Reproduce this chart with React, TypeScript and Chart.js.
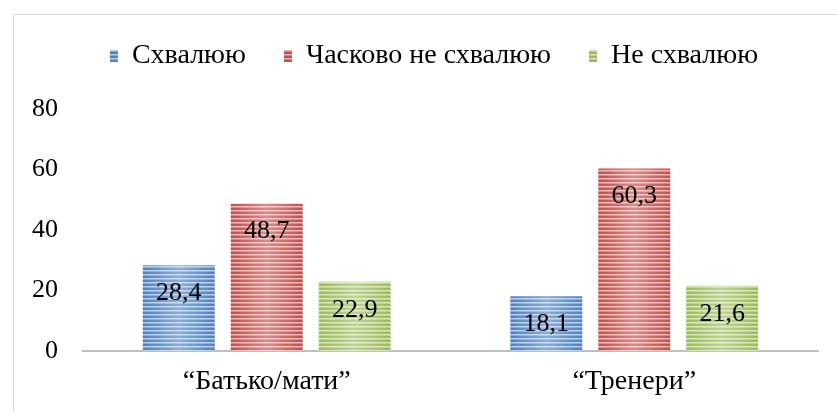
import React, { useEffect, useRef } from "react";
import { Chart, registerables } from "chart.js";

Chart.register(...registerables);

const categories = ["“Батько/мати”", "“Тренери”"];
const seriesNames = ["Схвалюю", "Часково не схвалюю", "Не схвалюю"];
const approveValues = [28.4, 18.1];
const partialValues = [48.7, 60.3];
const disapproveValues = [22.9, 21.6];
const yTickMin = 0;
const yTickMax = 80;
const yTickStep = 20;

const baseColors = ["#4f81bd", "#c0504d", "#9bbb59"];
const lightColors = ["#b9cde6", "#e6b9b8", "#d7e4bd"];
const FONT = "'Liberation Serif', 'Times New Roman', serif";

function makePattern(base: string, light: string): CanvasPattern | string {
  const c = document.createElement("canvas");
  c.width = 4;
  c.height = 4;
  const ctx = c.getContext("2d");
  if (!ctx) return base;
  ctx.fillStyle = base;
  ctx.fillRect(0, 0, 4, 4);
  ctx.fillStyle = light;
  ctx.fillRect(0, 2, 4, 1);
  ctx.globalAlpha = 0.5;
  ctx.fillRect(0, 3, 4, 1);
  const p = ctx.createPattern(c, "repeat");
  return p || base;
}

const fmt = (v: number) => v.toFixed(1).replace(".", ",");

const legendShift = {
  id: "legendShift",
  afterLayout(chart: any) {
    const lg = chart.legend;
    if (lg) {
      lg.left = chart.chartArea.left - 33;
    }
  },
};

const barDecor = {
  id: "barDecor",
  afterDatasetsDraw(chart: any) {
    const ctx = chart.ctx;
    chart.data.datasets.forEach((ds: any, di: number) => {
      const meta = chart.getDatasetMeta(di);
      meta.data.forEach((bar: any, i: number) => {
        const { x, y, base, width } = bar.getProps(["x", "y", "base", "width"], true);
        const left = x - width / 2;
        const g = ctx.createLinearGradient(left, 0, left + width, 0);
        g.addColorStop(0, "rgba(255,255,255,0)");
        g.addColorStop(0.5, "rgba(255,255,255,0.35)");
        g.addColorStop(1, "rgba(255,255,255,0)");
        ctx.save();
        ctx.fillStyle = g;
        ctx.fillRect(left, y, width, base - y);
        ctx.fillStyle = "#000";
        ctx.font = `26px ${FONT}`;
        ctx.textAlign = "center";
        ctx.textBaseline = "middle";
        ctx.fillText(fmt(ds.data[i]), x, y + 28);
        ctx.restore();
      });
    });
  },
};

export default function App() {
  const ref = useRef<HTMLCanvasElement>(null);
  useEffect(() => {
    if (!ref.current) return;
    const valueSets = [approveValues, partialValues, disapproveValues];
    const chart = new Chart(ref.current, {
      type: "bar",
      data: {
        labels: categories,
        datasets: seriesNames.map((name, i) => ({
          label: name,
          data: valueSets[i],
          backgroundColor: makePattern(baseColors[i], lightColors[i]) as any,
          borderWidth: 0,
          barPercentage: 0.818,
          categoryPercentage: 0.718,
        })),
      },
      options: {
        animation: false,
        responsive: false,
        layout: { padding: { top: 4, right: 19, bottom: 0, left: 0 } },
        plugins: {
          tooltip: { enabled: false },
          legend: {
            position: "top",
            labels: {
              boxWidth: 8,
              boxHeight: 12,
              padding: 38,
              color: "#000",
              font: { family: FONT, size: 28 },
            },
          },
          subtitle: {
            display: true,
            text: " ",
            position: "top",
            weight: 500,
            padding: 0,
            font: { family: FONT, size: 24 },
          },
        },
        scales: {
          x: {
            grid: { display: false, drawTicks: false },
            border: { display: true, color: "#bfbfbf", width: 2 },
            ticks: { color: "#000", font: { family: FONT, size: 28, lineHeight: 1.1 }, padding: 15 },
          },
          y: {
            min: yTickMin,
            max: yTickMax,
            grid: { display: false, drawTicks: false },
            border: { display: false },
            ticks: {
              stepSize: yTickStep,
              color: "#000",
              font: { family: FONT, size: 26 },
              padding: 25,
            },
            afterFit(scale: any) {
              scale.width = 83;
            },
          },
        },
      },
      plugins: [legendShift, barDecor],
    });
    return () => chart.destroy();
  }, []);
  return (
    <div style={{ position: "absolute", left: 0, top: 0, width: 837, height: 412, overflow: "hidden", background: "#fff" }}>
      <div
        style={{
          position: "absolute",
          left: 13,
          top: 14,
          width: 900,
          height: 500,
          border: "1px solid #d9d9d9",
        }}
      />
      <canvas ref={ref} width={837} height={412} style={{ position: "absolute", left: 0, top: 0 }} />
    </div>
  );
}
